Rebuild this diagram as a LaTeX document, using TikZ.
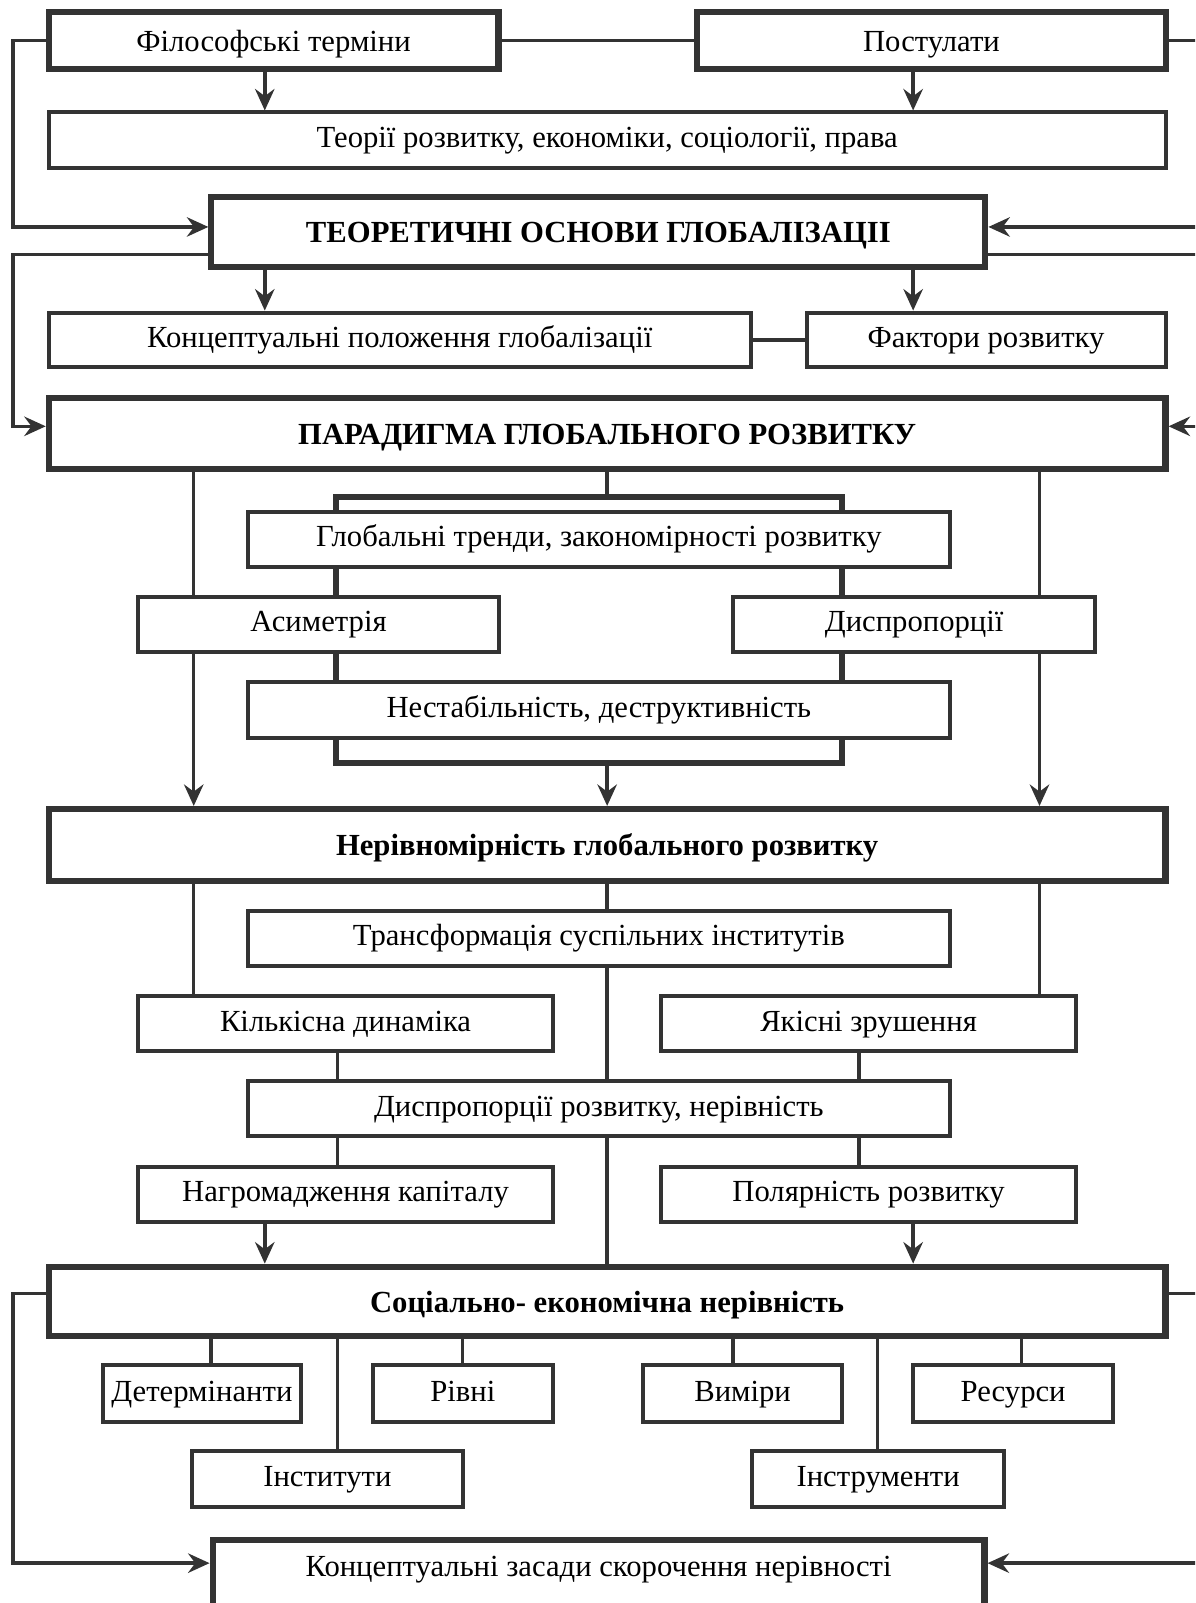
\documentclass[tikz,border=0pt]{standalone}
\usepackage{fontspec}
\setmainfont{Liberation Serif}
\usetikzlibrary{arrows.meta}
\definecolor{lc}{RGB}{51,51,51}
\tikzset{
  base/.style={draw=lc, fill=white, inner sep=0pt, outer sep=auto, align=center,
    font=\fontsize{30}{36}\selectfont, text height=21pt, text depth=7pt},
  thin/.style={base, line width=3.9pt},
  thick/.style={base, line width=6pt, text height=25pt, text depth=4pt},
  bthick/.style={thick, font=\fontsize{30}{36}\selectfont\bfseries},
  frm/.style={draw=lc, line width=6pt, inner sep=0pt, outer sep=auto},
  conn/.style={draw=lc, line width=3.4pt},
  arr/.style={conn, -{Stealth[length=21pt,width=19pt,inset=7pt]}},
}
\newcommand{\bx}[7]{\node[#1, minimum width=#5pt, minimum height=#6pt] (#2) at (#3,#4) {#7};}
\begin{document}
\begin{tikzpicture}[x=1pt,y=-1pt]
\useasboundingbox (0,0) rectangle (1169,1568);
\clip (0,0) rectangle (1169,1568);
\fill[white] (0,0) rectangle (1169,1568);
% column coordinates
\coordinate (L) at (12.5,0);
\coordinate (R) at (1200,0);
\coordinate (cA) at (259,0);
\coordinate (cB) at (893.2,0);
\coordinate (cL1) at (189.5,0);
\coordinate (cM) at (593.9,0);
\coordinate (cR1) at (1016.8,0);
\coordinate (cK) at (330,0);
\coordinate (cY) at (840.4,0);
\coordinate (cDet) at (206.5,0);
\coordinate (cRiv) at (452.6,0);
\coordinate (cVym) at (717,0);
\coordinate (cInstr) at (858.5,0);
\coordinate (cRes) at (999,0);
% boxes
\bx{thick}{fil}{267.6}{39.8}{440}{55.8}{Філософські терміни}
\bx{thick}{post}{911.1}{39.8}{458.2}{55.8}{Постулати}
\bx{thin}{teorii}{593.9}{137.3}{1092.3}{54.6}{Теорії розвитку, економіки, соціології, права}
\bx{bthick}{teor}{585.3}{227}{757}{68}{ТЕОРЕТИЧНІ ОСНОВИ ГЛОБАЛІЗАЦІІ}
\bx{thin}{konc}{391}{332.5}{686.5}{53.5}{Концептуальні положення глобалізації}
\bx{thin}{fakt}{964.5}{332.5}{351.1}{53.5}{Фактори розвитку}
\bx{bthick}{par}{593.9}{424}{1092.3}{70}{ПАРАДИГМА ГЛОБАЛЬНОГО РОЗВИТКУ}
\node[frm, minimum width=494.7pt, minimum height=260.8pt] (frame) at (576,616.3) {};
\bx{thin}{trend}{585.8}{527.7}{686.3}{54.4}{Глобальні тренди, закономірності розвитку}
\bx{thin}{asym}{311.6}{611}{352.5}{53.6}{Асиметрія}
\bx{thin}{disp}{894.2}{611}{353.6}{53.6}{Диспропорції}
\bx{thin}{nestab}{585.8}{694.7}{686.3}{54.6}{Нестабільність, деструктивність}
\bx{bthick}{nerivn}{593.9}{826.4}{1092.3}{70.1}{Нерівномірність глобального розвитку}
\bx{thin}{transf}{585.8}{917.6}{686.3}{53.8}{Трансформація суспільних інститутів}
\bx{thin}{kilk}{338}{1001.5}{405.5}{54}{Кількісна динаміка}
\bx{thin}{yakis}{849.6}{1001.5}{405.6}{54}{Якісні зрушення}
\bx{thin}{disprozv}{585.8}{1084.7}{686.3}{53.9}{Диспропорції розвитку, нерівність}
\bx{thin}{nagr}{338}{1168.4}{405.5}{54.3}{Нагромадження капіталу}
\bx{thin}{polyar}{849.6}{1168.4}{405.6}{54.3}{Полярність розвитку}
\bx{bthick}{sei}{593.9}{1273}{1092.3}{68}{Соціально- економічна нерівність}
\bx{thin}{determ}{197.5}{1363.5}{193}{55.7}{Детермінанти}
\bx{thin}{rivni}{452.8}{1363.5}{176}{55.7}{Рівні}
\bx{thin}{vymiry}{726.4}{1363.5}{194}{55.7}{Виміри}
\bx{thin}{resursy}{991}{1363.5}{195}{55.7}{Ресурси}
\bx{thin}{inst}{320.3}{1447}{264.7}{54.6}{Інститути}
\bx{thin}{instr}{859}{1447}{246}{54.6}{Інструменти}
\node[frm, fill=white, minimum width=755pt, minimum height=70pt, anchor=north] (zasady) at (585.5,1503) {};
\node[font=\fontsize{30}{36}\selectfont, inner sep=0pt, text height=21pt, text depth=7pt] (zasadyT) at (585.5,1535) {Концептуальні засади скорочення нерівності};
% side anchors
\coordinate (teorInL) at ([yshift=5pt]teor.west);
\coordinate (teorOutL) at ([yshift=-22pt]teor.west);
\coordinate (teorInR) at ([yshift=5pt]teor.east);
\coordinate (teorOutR) at ([yshift=-22pt]teor.east);
\coordinate (parInL) at ([yshift=7pt]par.west);
\coordinate (parInR) at ([yshift=7pt]par.east);
\coordinate (seiOutL) at ([yshift=8pt]sei.west);
\coordinate (seiOutR) at ([yshift=8pt]sei.east);
\coordinate (zasInL) at ([yshift=-26pt]zasady.north west);
\coordinate (zasInR) at ([yshift=-26pt]zasady.north east);
% connectors, top part
\draw[conn] (fil.east) -- (post.west);
\draw[conn] (post.east) -- (R |- post.east);
\draw[arr] (fil.west) -| (L |- teorInL) -- (teorInL);
\draw[arr] (fil.south -| cA) -- (teorii.north -| cA);
\draw[arr] (post.south -| cB) -- (teorii.north -| cB);
\draw[arr] (R |- teorInR) -- (teorInR);
\draw[conn] (teorOutR) -- (R |- teorOutR);
\draw[arr] (teorOutL) -| (L |- parInL) -- (parInL);
\draw[arr] (R |- parInR) -- (parInR);
\draw[arr] (teor.south -| cA) -- (konc.north -| cA);
\draw[arr] (teor.south -| cB) -- (fakt.north -| cB);
\draw[conn] (konc.east) -- (fakt.west);
% middle part
\draw[conn] (par.south -| cL1) -- (asym.north -| cL1);
\draw[arr] (asym.south -| cL1) -- (nerivn.north -| cL1);
\draw[conn] (par.south -| cR1) -- (disp.north -| cR1);
\draw[arr] (disp.south -| cR1) -- (nerivn.north -| cR1);
\draw[conn] (par.south -| cM) -- (frame.north -| cM);
\draw[arr] (frame.south -| cM) -- (nerivn.north -| cM);
\draw[conn] (nerivn.south -| cL1) -- (kilk.north -| cL1);
\draw[conn] (nerivn.south -| cR1) -- (yakis.north -| cR1);
\draw[conn] (nerivn.south -| cM) -- (transf.north -| cM);
\draw[conn] (transf.south -| cM) -- (disprozv.north -| cM);
\draw[conn] (kilk.south -| cK) -- (disprozv.north -| cK);
\draw[conn] (yakis.south -| cY) -- (disprozv.north -| cY);
\draw[conn] (disprozv.south -| cK) -- (nagr.north -| cK);
\draw[conn] (disprozv.south -| cY) -- (polyar.north -| cY);
\draw[conn] (disprozv.south -| cM) -- (sei.north -| cM);
\draw[arr] (nagr.south -| cA) -- (sei.north -| cA);
\draw[arr] (polyar.south -| cB) -- (sei.north -| cB);
% bottom part
\draw[conn] (sei.south -| cDet) -- (determ.north -| cDet);
\draw[conn] (sei.south -| cRiv) -- (rivni.north -| cRiv);
\draw[conn] (sei.south -| cVym) -- (vymiry.north -| cVym);
\draw[conn] (sei.south -| cRes) -- (resursy.north -| cRes);
\draw[conn] (sei.south -| cK) -- (inst.north -| cK);
\draw[conn] (sei.south -| cInstr) -- (instr.north -| cInstr);
\draw[arr] (seiOutL) -| (L |- zasInL) -- (zasInL);
\draw[conn] (seiOutR) -- (R |- seiOutR);
\draw[arr] (R |- zasInR) -- (zasInR);
\end{tikzpicture}
\end{document}
